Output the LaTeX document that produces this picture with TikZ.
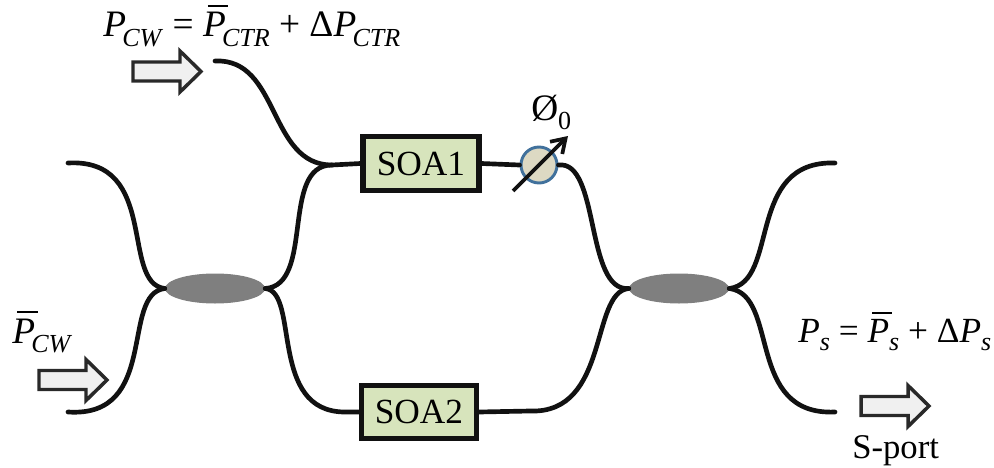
\documentclass[tikz,border=0pt]{standalone}
\usepackage{fontspec}
\setmainfont{Liberation Serif}
\usetikzlibrary{shapes.geometric,arrows.meta}
\definecolor{soagreen}{HTML}{D7E4BC}
\definecolor{phasefill}{HTML}{DDD9C3}
\definecolor{phaseline}{HTML}{41719C}
\definecolor{coupler}{HTML}{7F7F7F}
\definecolor{fiberc}{HTML}{111111}
\newcommand{\Pb}{\rlap{\kern0.13em\rule[0.8em]{0.55em}{0.06em}}\textit{P}}
\newcommand{\sbs}[1]{\kern-0.1em\raisebox{-0.25em}{\fontsize{19.5}{20}\selectfont\textit{#1}}}
\newcommand{\sbn}[1]{\raisebox{-0.25em}{\fontsize{19.5}{20}\selectfont\textit{#1}}}
\tikzset{
  fiber/.style={line width=3.5pt,color=fiberc,line cap=round},
  soabox/.style={draw=fiberc,line width=3.8pt,fill=soagreen,minimum height=40pt,inner sep=0pt,font=\fontsize{26.5}{28}\selectfont},
  couplernode/.style={shape=ellipse,fill=coupler,minimum width=75pt,minimum height=22.5pt,inner sep=0pt},
  phasenode/.style={shape=circle,draw=phaseline,line width=2.2pt,fill=phasefill,minimum size=27pt,inner sep=0pt},
  blockarrow/.pic={\draw[draw=fiberc!90,line width=2.6pt,fill=black!6,line join=miter]
     (-68,-9.5) -- (-21,-9.5) -- (-21,-20.5) -- (0,0) -- (-21,20.5) -- (-21,9.5) -- (-68,9.5) -- cycle;},
  formula/.style={anchor=base west,inner sep=0pt,font=\fontsize{28}{30}\selectfont},
  smallformula/.style={anchor=base west,inner sep=0pt,font=\fontsize{26.5}{28}\selectfont},
  plainlabel/.style={anchor=base west,inner sep=0pt,font=\fontsize{26}{28}\selectfont}
}
\begin{document}
\begin{tikzpicture}[x=0.75pt,y=-0.75pt]
\useasboundingbox (0,0) rectangle (994,467);
% end points
\coordinate (topin) at (215,61);
\coordinate (ul) at (68,163);
\coordinate (ll) at (68,412);
\coordinate (ur) at (835,163);
\coordinate (lr) at (835,412);
\coordinate (j1) at (332,165);
\coordinate (j2) at (530,411);
\coordinate (j3) at (345,412);
% nodes
\node[couplernode] (c1) at (215,288.5) {};
\node[couplernode] (c2) at (679,288.5) {};
\node[soabox,minimum width=87pt] (soa1) at (421,163.5) {SOA1};
\node[soabox,minimum width=86pt] (soa2) at (419,412) {SOA2};
% fibres
\draw[fiber] (topin) .. controls (280,58) and (268,165) .. (j1) -- (soa1.west);
\draw[fiber] (ul) .. controls (160,158) and (120,283) .. (c1.west);
\draw[fiber] (ll) .. controls (160,418) and (120,294) .. (c1.west);
\draw[fiber] (c1.east) .. controls (315,285) and (280,165) .. (j1);
\draw[fiber] (c1.east) .. controls (300,292) and (268,412) .. (j3) -- (soa2.west);
\draw[fiber] (soa2.east) -- (j2) .. controls (610,414) and (590,292) .. (c2.west);
\draw[fiber] (c2.east) .. controls (780,282) and (745,160) .. (ur);
\draw[fiber] (c2.east) .. controls (780,295) and (745,416) .. (lr);
\node[phasenode] (ph) at (539,165) {};
\draw[fiber] (soa1.east) -- (ph.west);
\draw[fiber] (ph.east) .. controls (600,160) and (585,292) .. (c2.west);
\coordinate (phs) at (513,191);
\coordinate (phe) at (568,136);
\draw[line width=2.8pt,color=fiberc,-{Straight Barb[length=10pt,width=13pt,line width=2.8pt]}] (phs) -- (phe);
% block arrows
\pic at (201,71.5) {blockarrow};
\pic at (107,380) {blockarrow};
\pic at (929,406) {blockarrow};
% labels
\node[formula] (f1) at (103,37) {\textit{P}\sbs{CW} = \Pb\sbs{CTR} + Δ\textit{P}\sbs{CTR}};
\node[formula] (f2) at (12,343) {\Pb\sbs{CW}};
\node[smallformula] (f3) at (798,342) {\textit{P}\sbn{s} = \Pb\sbn{s} + Δ\textit{P}\sbn{s}};
\node[formula] (f4) at (531,120) {Ø\sbn{\textup{0}}};
\node[plainlabel] (f5) at (852,458) {S-port};
\end{tikzpicture}
\end{document}
